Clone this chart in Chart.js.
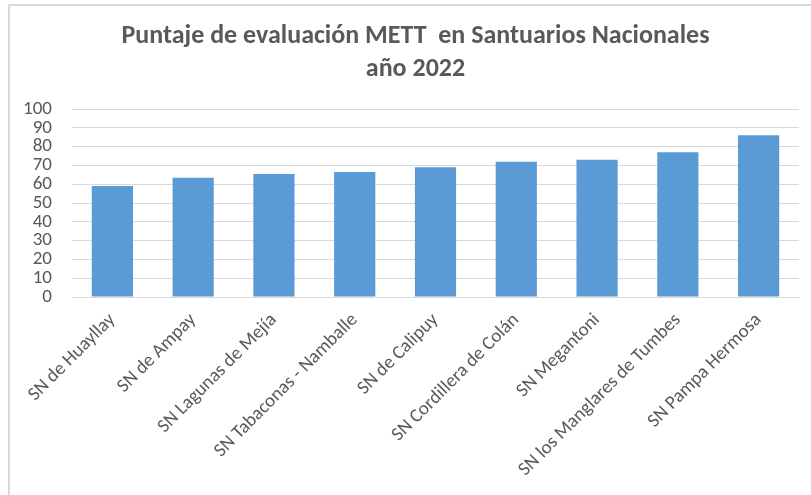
<!DOCTYPE html>
<html>
<head>
    <title>Puntaje METT Santuarios Nacionales</title>
    <style>
        body { margin: 0; background: #fff; }
        #wrap { position: relative; width: 811px; height: 495px; }
        #frame {
            position: absolute; left: 8px; top: 4px; right: 0; bottom: 0;
            border-top: 2px solid #d9d9d9; border-left: 2px solid #d9d9d9;
        }
    </style>
    <script src="https://cdn.jsdelivr.net/npm/chart.js"></script>
</head>
<body>
    <div id="wrap">
        <div id="frame"></div>
        <canvas id="mettChart" width="811" height="495"></canvas>
    </div>
    <script>
        // Data
        var santuarios = [
            'SN de Huayllay',
            'SN de Ampay',
            'SN Lagunas de Mejía',
            'SN Tabaconas - Namballe',
            'SN de Calipuy',
            'SN Cordillera de Colán',
            'SN Megantoni',
            'SN los Manglares de Tumbes',
            'SN Pampa Hermosa'
        ];
        var puntajes = [59, 63.5, 65.5, 66.5, 69, 72, 73, 77, 86];
        var titleLines = ['Puntaje de evaluación METT  en Santuarios Nacionales', 'año 2022'];

        var fontFamily = "Carlito, 'Liberation Sans Narrow', 'Liberation Sans', sans-serif";
        var textColor = '#595959';

        // nudge the title a little to the right, like the original
        var titleShift = {
            id: 'titleShift',
            afterLayout: function (chart) {
                if (chart.titleBlock) {
                    chart.titleBlock.left += 22;
                }
            }
        };

        var ctx = document.getElementById('mettChart').getContext('2d');
        var myChart = new Chart(ctx, {
            type: 'bar',
            data: {
                labels: santuarios,
                datasets: [{
                    label: 'Puntaje',
                    data: puntajes,
                    backgroundColor: '#5b9bd5',
                    barPercentage: 0.51,
                    categoryPercentage: 1.0
                }]
            },
            options: {
                responsive: false,
                animation: false,
                layout: { padding: { left: 10, right: 12, top: 20, bottom: 0 } },
                plugins: {
                    legend: { display: false },
                    tooltip: { enabled: false },
                    title: {
                        display: true,
                        text: titleLines,
                        color: textColor,
                        font: { family: fontFamily, size: 26, weight: 'bold', lineHeight: 1.27 },
                        padding: { top: 0, bottom: 23 }
                    }
                },
                scales: {
                    x: {
                        grid: { display: false },
                        border: { color: '#d9d9d9', width: 1 },
                        ticks: {
                            color: textColor,
                            font: { family: fontFamily, size: 19 },
                            maxRotation: 45,
                            minRotation: 45,
                            autoSkip: false,
                            padding: 4
                        },
                        afterFit: function (scale) { scale.height = 198; }
                    },
                    y: {
                        min: 0,
                        max: 100,
                        grid: { color: '#d9d9d9', drawTicks: false },
                        border: { display: false },
                        ticks: {
                            stepSize: 10,
                            autoSkip: false,
                            color: textColor,
                            font: { family: fontFamily, size: 19 },
                            padding: 20
                        },
                        afterFit: function (scale) { scale.width = 62; }
                    }
                }
            },
            plugins: [titleShift]
        });
    </script>
</body>
</html>
